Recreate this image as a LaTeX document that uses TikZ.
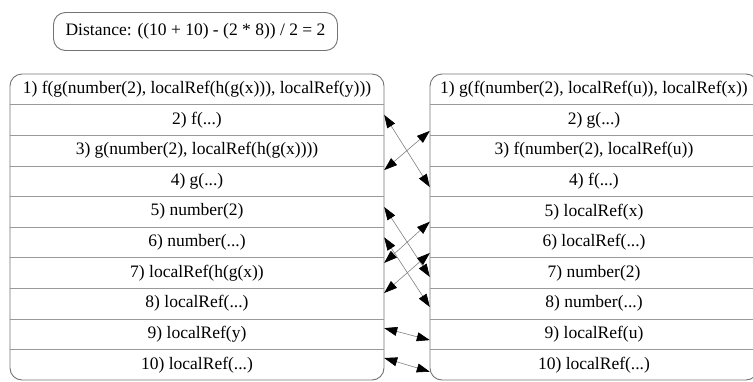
\documentclass[tikz,border=0pt]{standalone}
\usepackage{fontspec}
\setmainfont{Liberation Serif}
\usetikzlibrary{arrows.meta}
\begin{document}
\begin{tikzpicture}[x=1pt,y=-1pt]
\tikzset{
  frame/.style={draw=black!55, line width=0.9pt, rounded corners=12pt, inner sep=0pt},
  cell/.style={inner sep=0pt, minimum height=30.6pt, font=\fontsize{17.5}{20}\selectfont},
  lcell/.style={cell, minimum width=374pt},
  rcell/.style={cell, minimum width=328pt},
  sep/.style={draw=black!40, line width=0.8pt},
  link/.style={draw=black!50, line width=0.6pt,
    {Triangle[length=13pt,width=9pt,color=black,fill=black]}-{Triangle[length=13pt,width=9pt,color=black,fill=black]}},
}
\useasboundingbox (0,0) rectangle (753,381);
\clip (0,0) rectangle (753,381);

% summary box
\node[frame, minimum width=284pt, minimum height=38pt, font=\fontsize{17.5}{20}\selectfont] (dist) at (195.5,31.5)
  {Distance: ((10 + 10) - (2 * 8)) / 2 = 2};

% left tree
\node[frame, minimum width=374pt, minimum height=306pt] (ltab) at (197,227) {};
\node[lcell] (l1)  at (197,89.3)  {1) f(g(number(2), localRef(h(g(x))), localRef(y)))};
\node[lcell] (l2)  at (197,119.9) {2) f(...)};
\node[lcell] (l3)  at (197,150.5) {3) g(number(2), localRef(h(g(x))))};
\node[lcell] (l4)  at (197,181.1) {4) g(...)};
\node[lcell] (l5)  at (197,211.7) {5) number(2)};
\node[lcell] (l6)  at (197,242.3) {6) number(...)};
\node[lcell] (l7)  at (197,272.9) {7) localRef(h(g(x))};
\node[lcell] (l8)  at (197,303.5) {8) localRef(...)};
\node[lcell] (l9)  at (197,334.1) {9) localRef(y)};
\node[lcell] (l10) at (197,364.7) {10) localRef(...)};
\foreach \i in {1,2,3,4,5,6,7,8,9}
  \draw[sep] (l\i.south west) -- (l\i.south east);

% right tree
\node[frame, minimum width=328pt, minimum height=306pt] (rtab) at (594,227) {};
\node[rcell] (r1)  at (594,89.3)  {1) g(f(number(2), localRef(u)), localRef(x))};
\node[rcell] (r2)  at (594,119.9) {2) g(...)};
\node[rcell] (r3)  at (594,150.5) {3) f(number(2), localRef(u))};
\node[rcell] (r4)  at (594,181.1) {4) f(...)};
\node[rcell] (r5)  at (594,211.7) {5) localRef(x)};
\node[rcell] (r6)  at (594,242.3) {6) localRef(...)};
\node[rcell] (r7)  at (594,272.9) {7) number(2)};
\node[rcell] (r8)  at (594,303.5) {8) number(...)};
\node[rcell] (r9)  at (594,334.1) {9) localRef(u)};
\node[rcell] (r10) at (594,364.7) {10) localRef(...)};
\foreach \i in {1,2,3,4,5,6,7,8,9}
  \draw[sep] (r\i.south west) -- (r\i.south east);

% matched subtrees
\draw[link] ([yshift=5pt]l2.east) -- ([yshift=-6pt]r4.west);
\draw[link] ([yshift=11pt]l4.east) -- ([yshift=-11pt]r2.west);
\draw[link] ([yshift=4.7pt]l5.east) -- ([yshift=-4pt]r7.west);
\draw[link] ([yshift=10pt]l7.east) -- ([yshift=-10pt]r5.west);
\draw[link] ([yshift=5pt]l6.east) -- ([yshift=-3.5pt]r8.west);
\draw[link] ([yshift=10.5pt]l8.east) -- ([yshift=-10.7pt]r6.west);
\draw[link] ([yshift=6pt]l9.east) -- ([yshift=-6pt]r9.west);
\draw[link] ([yshift=6.7pt]l10.east) -- ([yshift=-7pt]r10.west);
\end{tikzpicture}
\end{document}
